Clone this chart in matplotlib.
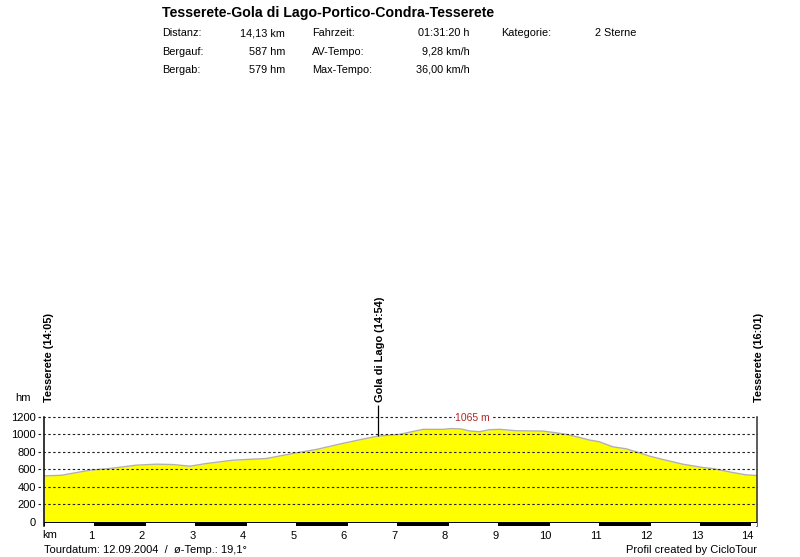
import matplotlib
matplotlib.use('Agg')

import matplotlib.pyplot as plt
import matplotlib.transforms as mtrans
import numpy as np

plt.rcParams['font.family'] = ['Liberation Sans', 'DejaVu Sans']

# profile (km, elevation in m)
km = [0.0, 0.35, 0.91, 1.31, 1.83, 2.23, 2.56, 2.89, 3.22, 3.75, 4.41, 4.93,
      5.40, 5.92, 6.39, 6.62, 7.05, 7.51, 7.91, 8.07, 8.27, 8.44, 8.63, 8.83,
      9.03, 9.36, 9.89, 10.09, 10.35, 10.61, 10.81, 11.01, 11.27, 11.54, 11.80,
      12.00, 12.26, 12.66, 13.06, 13.25, 13.65, 13.92, 14.13]
elev = [526, 533, 591, 610, 648, 659, 655, 636, 667, 705, 724, 781,
        827, 896, 953, 979, 999, 1056, 1056, 1065, 1060, 1037, 1029, 1052,
        1056, 1040, 1036, 1021, 999, 964, 934, 914, 857, 834, 789,
        751, 713, 659, 621, 610, 564, 537, 530]

distance = 14.13
max_elev = 1065
max_km = 8.07
yticks = [0, 200, 400, 600, 800, 1000, 1200]
xticks = list(range(1, 15))

# waypoints: (km, label)
points = [(0.0, 'Tesserete (14:05)'), (6.62, 'Gola di Lago (14:54)'), (14.13, 'Tesserete (16:01)')]

title = 'Tesserete-Gola di Lago-Portico-Condra-Tesserete'
info = [
    [('Distanz:', '14,13 km'), ('Fahrzeit:', '01:31:20 h'), ('Kategorie:', '2 Sterne')],
    [('Bergauf:', '587 hm'), ('AV-Tempo:', '9,28 km/h')],
    [('Bergab:', '579 hm'), ('Max-Tempo:', '36,00 km/h')],
]

W, H = 800, 557
fig = plt.figure(figsize=(W / 100, H / 100), dpi=100)


def fx(px):
    return px / W


def fy(py):
    return 1 - py / H


# header
fig.text(fx(162), fy(12.5), title, fontsize=10.2, fontweight='bold', va='center')
cols = [(162.5, 285), (312, 470), (501.5, 636.5)]
rows_y = [33.3, 51.7, 70]
for r, row in enumerate(info):
    for c, (lab, val) in enumerate(row):
        fig.text(fx(cols[c][0]), fy(rows_y[r]), lab, fontsize=7.8, va='center')
        fig.text(fx(cols[c][1]), fy(rows_y[r]), val, fontsize=7.8, va='center', ha='right')

# profile axes
ybot = -45
ax = fig.add_axes([fx(44), fy(526), fx(757) - fx(44), fy(416.7) - fy(526)])
ax.set_xlim(0, distance)
ax.set_ylim(ybot, 1200)

ax.fill_between(km, 0, elev, color='#ffff00', lw=0, zorder=1)
ax.plot(km, elev, color='#b0b0b0', lw=1.0, zorder=2)

# dashed grid lines, sticking out a little to the left
ax.hlines(yticks[1:], -0.009, 1, transform=ax.get_yaxis_transform(),
          colors='#202020', linestyles=(0, (2.2, 2.2)), lw=0.8, clip_on=False, zorder=3)

# km bar
edges = np.arange(0, distance, 1.0)
widths = np.minimum(edges + 1, distance) - edges
colors = ['white' if i % 2 == 0 else 'black' for i in range(len(edges))]
ax.bar(edges, -ybot - 10, width=widths, bottom=ybot + 5, align='edge',
       color=colors, edgecolor='black', lw=0.7, zorder=4)

for s in ['top', 'bottom']:
    ax.spines[s].set_visible(False)
ax.spines['left'].set_linewidth(1.1)
ax.spines['right'].set_linewidth(1.1)
ax.spines['right'].set_color('#303030')

ax.set_yticks(yticks)
ax.set_xticks(xticks)
ax.tick_params(length=0, labelsize=8)
ax.tick_params(axis='y', pad=6)
ax.tick_params(axis='x', pad=3.5)
shift = mtrans.ScaledTranslation(-3 / 100, 0, fig.dpi_scale_trans)
for lbl in ax.get_xticklabels():
    lbl.set_transform(lbl.get_transform() + shift)

ax.text(-0.003, -0.085, 'km', transform=ax.transAxes, fontsize=8, va='center')
fig.text(fx(15), fy(398), 'hm', fontsize=8, va='center')

# max elevation label
ax.text(max_km + 0.08, 1190, f'{max_elev} m', color='#b02828', fontsize=7.5,
        va='center', ha='left', zorder=5,
        bbox=dict(facecolor='white', edgecolor='none', pad=0.5))

# waypoint labels
label_y = 1 + (416.7 - 402) / (526 - 416.7)
for i, (pk, name) in enumerate(points):
    ha = 'left' if i == 0 else 'center'
    dx = 0.0 if i == 0 else 0.04
    ax.text(pk + dx, label_y, name, rotation=90, fontsize=7.9, fontweight='bold',
            ha=ha, va='bottom', transform=ax.get_xaxis_transform())
    if 0 < i < len(points) - 1:
        e = np.interp(pk, km, elev)
        ax.vlines(pk, (e - ybot) / (1200 - ybot), label_y - 0.03,
                  transform=ax.get_xaxis_transform(), colors='black', lw=0.9,
                  clip_on=False, zorder=5)

# footer
fig.text(fx(44), fy(550), 'Tourdatum: 12.09.2004  /  ø-Temp.: 19,1°', fontsize=8, va='center')
fig.text(fx(757), fy(550), 'Profil created by CicloTour', fontsize=8, va='center', ha='right')

fig.savefig('out.png', dpi=100)
